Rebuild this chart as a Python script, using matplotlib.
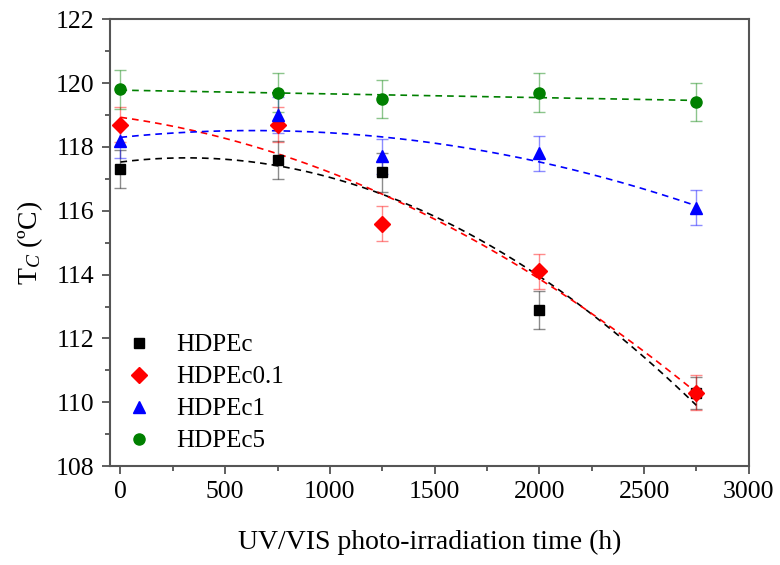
import numpy as np
import matplotlib
matplotlib.use("Agg")
import matplotlib.pyplot as plt
from matplotlib.ticker import MultipleLocator

plt.rcParams["font.family"] = ["Liberation Serif", "DejaVu Serif"]
plt.rcParams["mathtext.fontset"] = "custom"
plt.rcParams["mathtext.rm"] = "Liberation Serif"
plt.rcParams["mathtext.it"] = "Liberation Serif:italic"

time_h = [0, 750, 1250, 2000, 2750]
labels = ["HDPEc", "HDPEc0.1", "HDPEc1", "HDPEc5"]
tc_hdpec = [117.3, 117.6, 117.2, 112.9, 110.3]
tc_hdpec01 = [118.7, 118.7, 115.6, 114.1, 110.3]
tc_hdpec1 = [118.2, 119.0, 117.7, 117.8, 116.1]
tc_hdpec5 = [119.8, 119.7, 119.5, 119.7, 119.4]
err_hdpec = [0.6, 0.6, 0.6, 0.6, 0.5]
err_hdpec01 = [0.55, 0.55, 0.55, 0.55, 0.55]
err_hdpec1 = [0.55, 0.55, 0.55, 0.55, 0.55]
err_hdpec5 = [0.6, 0.6, 0.6, 0.6, 0.6]

series = [tc_hdpec, tc_hdpec01, tc_hdpec1, tc_hdpec5]
errors = [err_hdpec, err_hdpec01, err_hdpec1, err_hdpec5]
colors = ["black", "red", "blue", "green"]
markers = ["s", "D", "^", "o"]
msizes = [7, 8, 8, 8]

fig = plt.figure(figsize=(7.8, 5.65), dpi=100)
ax = fig.add_axes([0.141, 0.175, 0.819, 0.791])

x = np.array(time_h, dtype=float)
xf = np.linspace(0, 2750, 200)
for y, e, c, m, ms, lab in zip(series, errors, colors, markers, msizes, labels):
    # quadratic trend line through the measured points
    coef = np.polyfit(x, y, 2)
    ax.plot(xf, np.polyval(coef, xf), ls=(0, (4, 3)), color=c, lw=1.2, zorder=2)
    ax.errorbar(x, y, yerr=e, fmt="none", ecolor=c, elinewidth=1, capsize=4,
                capthick=1, alpha=0.45, zorder=3)
    ax.plot(x, y, ls="none", marker=m, color=c, ms=ms, label=lab, zorder=4)

ax.set_xlim(-50, 3000)
ax.set_ylim(108, 122)
ax.xaxis.set_major_locator(MultipleLocator(500))
ax.xaxis.set_minor_locator(MultipleLocator(250))
ax.yaxis.set_major_locator(MultipleLocator(2))
ax.yaxis.set_minor_locator(MultipleLocator(1))
ax.tick_params(which="major", direction="out", length=6, width=1.2, labelsize=18.5,
               color="#444", pad=5)
ax.tick_params(which="minor", direction="out", length=3.5, width=1.2, color="#444")
for s in ax.spines.values():
    s.set_linewidth(1.5)
    s.set_color("#555")

ax.set_xlabel("UV/VIS photo-irradiation time (h)", fontsize=20, labelpad=19)
ax.set_ylabel(r"T$_{C}$ (ºC)", fontsize=20, labelpad=8)

ax.legend(loc="lower left", bbox_to_anchor=(0.0, 0.0), frameon=False, fontsize=18,
          handletextpad=0.9, labelspacing=0.38, borderaxespad=0.35, handlelength=1.2,
          borderpad=0.2)

fig.savefig("out.png", dpi=100)
